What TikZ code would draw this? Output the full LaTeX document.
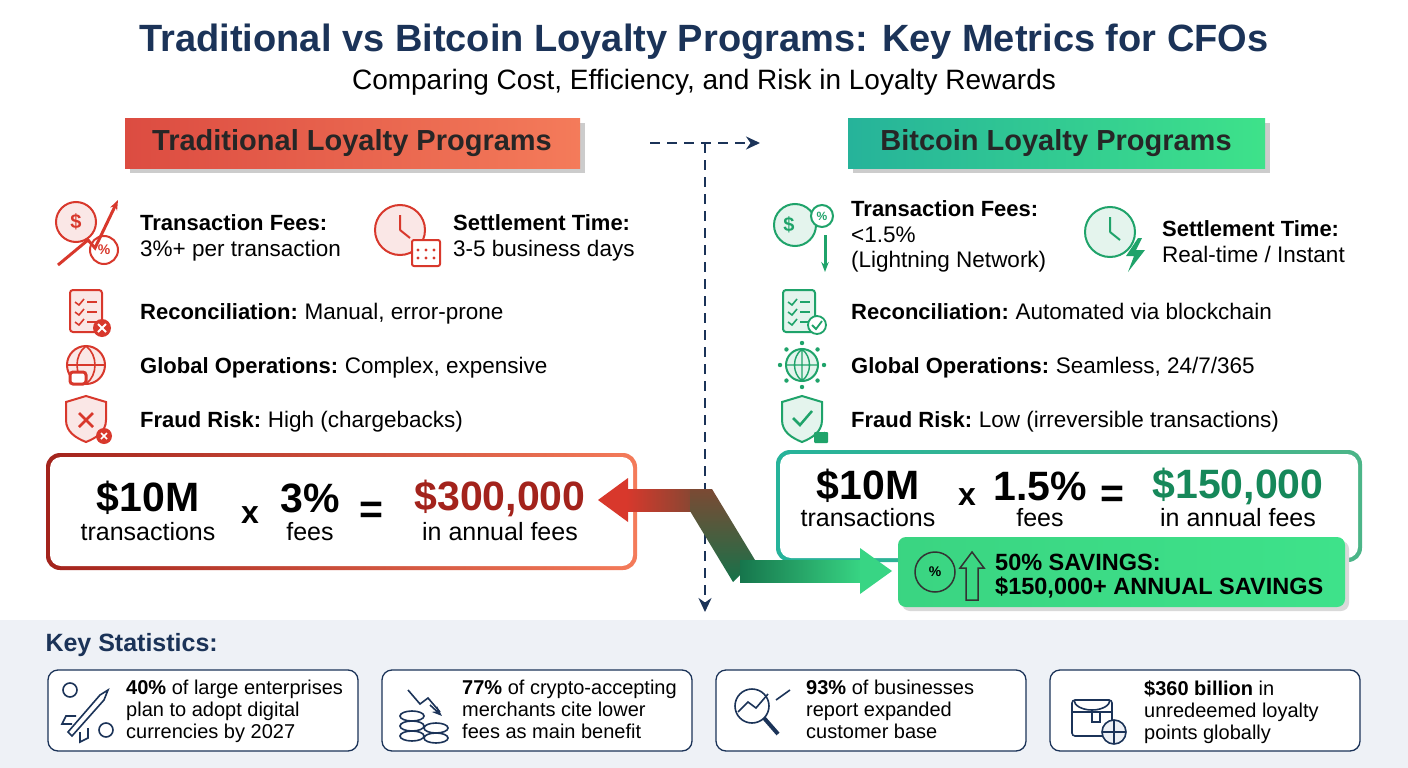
\documentclass[tikz,border=0pt]{standalone}
\usepackage{fontspec}
\setmainfont{Liberation Sans}
\usetikzlibrary{arrows.meta,shadows,calc}
\definecolor{navy}{HTML}{1B3358}
\definecolor{rred}{HTML}{D8382C}
\definecolor{dred}{HTML}{A3231C}
\definecolor{oran}{HTML}{F47B5A}
\definecolor{gg}{HTML}{1FA36A}
\definecolor{dgg}{HTML}{16885A}
\definecolor{teal}{HTML}{26B39A}
\definecolor{lgreen}{HTML}{3EE28A}
\definecolor{band}{HTML}{EEF1F6}
\tikzset{
 lbl/.style={anchor=base west,font=\fontsize{22.5}{24}\selectfont,inner sep=0},
 blbl/.style={anchor=base west,font=\bfseries\fontsize{22}{24}\selectfont,inner sep=0},
 big/.style={font=\bfseries\fontsize{41}{42}\selectfont,inner sep=0},
 mid/.style={font=\fontsize{25}{27}\selectfont,inner sep=0},
 card/.style={draw=navy,line width=1.3pt,rounded corners=10,fill=white},
 ctext/.style={anchor=north west,align=left,font=\fontsize{20}{22}\selectfont,inner sep=0},
 ricon/.style={draw=rred,line width=2pt,fill=rred!12},
 gicon/.style={draw=gg,line width=2pt,fill=gg!12},
 nicon/.style={draw=navy,line width=1.6pt},
 dash arrow/.style={navy,line width=2pt,dash pattern=on 10pt off 7pt,-{Stealth[length=14pt,width=13pt]}},
}
\begin{document}
\begin{tikzpicture}[x=1pt,y=-1pt]
\useasboundingbox (0,0) rectangle (1408,768);
\fill[white] (0,0) rectangle (1408,768);
% titles
\node[font=\bfseries\fontsize{38}{40}\selectfont,text=navy] (title) at (704,42) {Traditional vs Bitcoin Loyalty Programs: Key Metrics for CFOs};
\node[font=\fontsize{28}{30}\selectfont] (sub) at (704,82) {Comparing Cost, Efficiency, and Risk in Loyalty Rewards};
% headers
\fill[black!20] (130,123) rectangle (585,173);
\shade[left color=rred!90,right color=oran] (125,118) rectangle (580,168);
\node[font=\bfseries\fontsize{29}{30}\selectfont,text=black!85] (lh) at (352,143) {Traditional Loyalty Programs};
\fill[black!20] (853,123) rectangle (1270,173);
\shade[left color=teal,right color=lgreen] (848,118) rectangle (1265,168);
\node[font=\bfseries\fontsize{29}{30}\selectfont,text=black!85] (rh) at (1056,143) {Bitcoin Loyalty Programs};
% dashed connectors
\coordinate (d0) at (650,143); \coordinate (d1) at (760,143);
\coordinate (v0) at (705,143); \coordinate (v1) at (705,612);
\draw[dash arrow] (d0)--(d1);
\draw[dash arrow] (v0)--(v1);
% left items
\draw[ricon] (76,222) circle (20); \node[text=rred,font=\bfseries\fontsize{20}{20}\selectfont] at (76,222) {\$};
\draw[ricon,fill=white] (104,250) circle (14); \node[text=rred,font=\bfseries\fontsize{14}{14}\selectfont] at (104,250) {\%};
\draw[rred,line width=3pt,-{Stealth[length=10pt]}] (58,265)--(88,240)--(95,248)--(118,200);
\node[blbl] (tf) at (140,230) {Transaction Fees:};
\node[lbl] (tf2) at (140,256) {3\%+ per transaction};
\draw[ricon] (400,230) circle (25); \draw[rred,line width=2pt] (400,230)--(400,215) (400,230)--(410,238);
\draw[rred,line width=2pt,fill=white,rounded corners=2] (412,240) rectangle (440,266);
\foreach \i in {418,426,434}{\foreach \j in {250,258}{\fill[rred] (\i,\j) circle (1.7);}}
\node[blbl] (st) at (453,230) {Settlement Time:};
\node[lbl] (st2) at (453,256) {3-5 business days};
% reconciliation
\draw[ricon,rounded corners=3] (70,290) rectangle (102,332);
\foreach \y in {302,312,322}{\draw[rred,line width=1.6pt] (75,\y)--(79,\y+3)--(84,\y-3); \draw[rred,line width=1.6pt] (87,\y)--(97,\y);}
\fill[rred] (102,328) circle (9); \draw[white,line width=1.8pt] (98,324)--(106,332) (106,324)--(98,332);
\node[blbl] (rc) at (140,319) {Reconciliation:};
\node[lbl] at (rc.base east) {~Manual, error-prone};
% global
\draw[ricon] (86,365) circle (19);
\draw[rred,line width=1.6pt] (67,365)--(105,365) (86,346) .. controls (74,355) and (74,375) .. (86,384) (86,346) .. controls (98,355) and (98,375) .. (86,384);
\draw[rred,line width=3pt,rounded corners=3,fill=white] (70,372) rectangle (86,384);
\node[blbl] (go) at (140,373) {Global Operations:};
\node[lbl] at (go.base east) {~Complex, expensive};
% fraud
\draw[ricon] (66,402)--(86,396)--(106,402)--(106,420) .. controls (106,432) and (96,438) .. (86,442) .. controls (76,438) and (66,432) .. (66,420)--cycle;
\draw[rred,line width=2.5pt] (79,413)--(93,427) (93,413)--(79,427);
\fill[rred] (104,436) circle (8); \draw[white,line width=1.6pt] (101,433)--(107,439) (107,433)--(101,439);
\node[blbl] (fr) at (140,427) {Fraud Risk:};
\node[lbl] at (fr.base east) {~High (chargebacks)};
% right items
\draw[gicon] (795,225) circle (21); \node[text=gg,font=\bfseries\fontsize{20}{20}\selectfont] at (789,225) {\$};
\draw[gicon,fill=white] (822,216) circle (11); \node[text=gg,font=\bfseries\fontsize{12}{12}\selectfont] at (822,216) {\%};
\draw[gg,line width=3pt,-{Stealth[length=10pt]}] (825,235)--(825,272);
\node[blbl] (tfr) at (851,216) {Transaction Fees:};
\node[lbl] at (851,242) {<1.5\%};
\node[lbl] at (851,267) {(Lightning Network)};
\draw[gicon] (1110,232) circle (25); \draw[gg,line width=2pt] (1110,232)--(1110,217) (1110,232)--(1120,240);
\fill[gg] (1138,238)--(1126,256)--(1134,256)--(1128,272)--(1145,250)--(1136,250)--(1142,238)--cycle;
\node[blbl] (str) at (1162,236) {Settlement Time:};
\node[lbl] at (1162,262) {Real-time / Instant};
\draw[gicon,rounded corners=3] (783,290) rectangle (815,332);
\foreach \y in {302,312,322}{\draw[gg,line width=1.6pt] (788,\y)--(792,\y+3)--(797,\y-3); \draw[gg,line width=1.6pt] (800,\y)--(810,\y);}
\draw[gg,line width=1.8pt,fill=white] (817,325) circle (9); \draw[gg,line width=1.8pt] (812,325)--(816,329)--(822,321);
\node[blbl] (rcr) at (851,319) {Reconciliation:};
\node[lbl] at (rcr.base east) {~Automated via blockchain};
\draw[gicon] (802,365) circle (16);
\draw[gg,line width=1.4pt] (786,365)--(818,365) (802,349)--(802,381) (802,349) .. controls (792,357) and (792,373) .. (802,381) (802,349) .. controls (812,357) and (812,373) .. (802,381);
\foreach \a in {0,45,...,315}{\fill[gg] ($(802,365)+(\a:22)$) circle (2.2);}
\node[blbl] (gor) at (851,373) {Global Operations:};
\node[lbl] at (gor.base east) {~Seamless, 24/7/365};
\draw[gicon] (782,402)--(802,396)--(822,402)--(822,420) .. controls (822,432) and (812,438) .. (802,442) .. controls (792,438) and (782,432) .. (782,420)--cycle;
\draw[gg,line width=2.5pt] (793,418)--(800,425)--(812,411);
\fill[gg,rounded corners=1] (814,432) rectangle (828,443); \draw[gg,line width=1.5pt] (817,432) arc (180:0:4);
\node[blbl] (frr) at (851,427) {Fraud Risk:};
\node[lbl] at (frr.base east) {~Low (irreversible transactions)};
% left calc box
\shade[left color=dred,right color=oran,rounded corners=14] (46,453) rectangle (637,570);
\fill[white,rounded corners=11] (50,457) rectangle (633,566);
\node[big] (a1) at (148,498) {\$10M};
\node[mid] at (148,532) {transactions};
\node[big,font=\bfseries\fontsize{32}{32}\selectfont] at (250,515) {x};
\node[big] at (310,498) {3\%};
\node[mid] at (310,532) {fees};
\node[big] at (371,513) {=};
\node[big,text=dred] (a2) at (500,498) {\$300,000};
\node[mid] at (500,532) {in annual fees};
% right calc box
\shade[left color=teal,right color=gg!80,rounded corners=14] (776,450) rectangle (1362,562);
\fill[white,rounded corners=11] (780,454) rectangle (1358,558);
\node[big] at (868,486) {\$10M};
\node[mid] at (868,518) {transactions};
\node[big,font=\bfseries\fontsize{32}{32}\selectfont] at (967,497) {x};
\node[big] at (1040,486) {1.5\%};
\node[mid] at (1040,518) {fees};
\node[big] at (1112,497) {=};
\node[big,text=dgg] at (1238,486) {\$150,000};
\node[mid] at (1238,518) {in annual fees};
% savings box
\fill[black!15,rounded corners=8] (902,541) rectangle (1349,611);
\shade[left color=lgreen!90!black!60!lgreen,right color=lgreen,rounded corners=8] (898,537) rectangle (1345,607);
\node[font=\bfseries\fontsize{23.5}{25}\selectfont,anchor=west,inner sep=0] (s1) at (995,562) {50\% SAVINGS:};
\node[font=\bfseries\fontsize{23.5}{25}\selectfont,anchor=west,inner sep=0] (s2) at (995,588) {\$150,000+ ANNUAL SAVINGS};
\draw[black!80,line width=1.5pt] (935,572) circle (20);
\node[font=\bfseries\fontsize{14}{14}\selectfont] at (935,572) {\%};
\draw[black!80,line width=1.5pt] (966,600)--(966,568)--(960,568)--(972,552)--(984,568)--(978,568)--(978,600)--cycle;
% big arrow
\coordinate (ah) at (598,500); \coordinate (bh) at (892,571);
\fill[rred] (598,500)--(628,478)--(628,522)--cycle;
\shade[left color=rred,right color=dred!70!gg] (626,489) rectangle (702,511);
\shade[top color=dred!70!gg,bottom color=gg!70!black] (690,489)--(712,489)--(755,560)--(733,582)--(690,511)--cycle;
\shade[left color=gg!60!black!70!gg,right color=lgreen!80!gg] (740,560) rectangle (862,582);
\fill[lgreen!80!gg] (892,571)--(860,548)--(860,594)--cycle;
% bottom band
\fill[band] (0,620) rectangle (1408,768);
\node[anchor=west,font=\bfseries\fontsize{25}{26}\selectfont,text=navy] (ks) at (42,645) {Key Statistics:};
\draw[card] (48,670) rectangle (358,751);
\draw[card] (382,670) rectangle (692,751);
\draw[card] (716,670) rectangle (1026,751);
\draw[card] (1050,670) rectangle (1360,751);
\node[ctext] (c1) at (126,680) {\textbf{40\%} of large enterprises\\plan to adopt digital\\currencies by 2027};
\node[ctext] (c2) at (462,680) {\textbf{77\%} of crypto-accepting\\merchants cite lower\\fees as main benefit};
\node[ctext] (c3) at (806,680) {\textbf{93\%} of businesses\\report expanded\\customer base};
\node[ctext] (c4) at (1144,680) {\textbf{\$360 billion} in\\unredeemed loyalty\\points globally};
% card icons
\draw[nicon] (68,732)--(100,695)--(108,690)--(104,700)--(72,736)--cycle;
\draw[nicon] (76,716)--(66,716)--(62,724)--(72,724);
\draw[nicon] (88,728)--(88,738)--(80,742)--(80,732);
\draw[nicon] (70,690) circle (7); \draw[nicon] (106,730) circle (7);
\draw[nicon] (408,690)--(420,704)--(428,698)--(440,712);
\draw[nicon,-{Stealth}] (430,705)--(442,716);
\foreach \y in {736,726,716}{\draw[nicon,fill=white] (412,\y) ellipse (12 and 5);}
\foreach \y in {738,728}{\draw[nicon,fill=white] (436,\y) ellipse (12 and 5);}
\draw[nicon] (752,706) circle (17); \draw[nicon,line width=4pt] (764,718)--(778,734);
\draw[nicon] (738,712)--(748,702)--(756,708)--(768,694);
\draw[nicon] (790,690)--(776,700);
\draw[nicon,rounded corners=3] (1072,700) rectangle (1112,736);
\draw[nicon] (1072,712)--(1112,712); \draw[nicon] (1074,700) arc (180:0:18 and 10);
\draw[nicon,fill=white] (1092,712) rectangle (1100,722);
\draw[nicon,fill=band] (1114,732) circle (12); \draw[nicon] (1102,732)--(1126,732) (1114,720)--(1114,744);
\end{tikzpicture}
\end{document}
